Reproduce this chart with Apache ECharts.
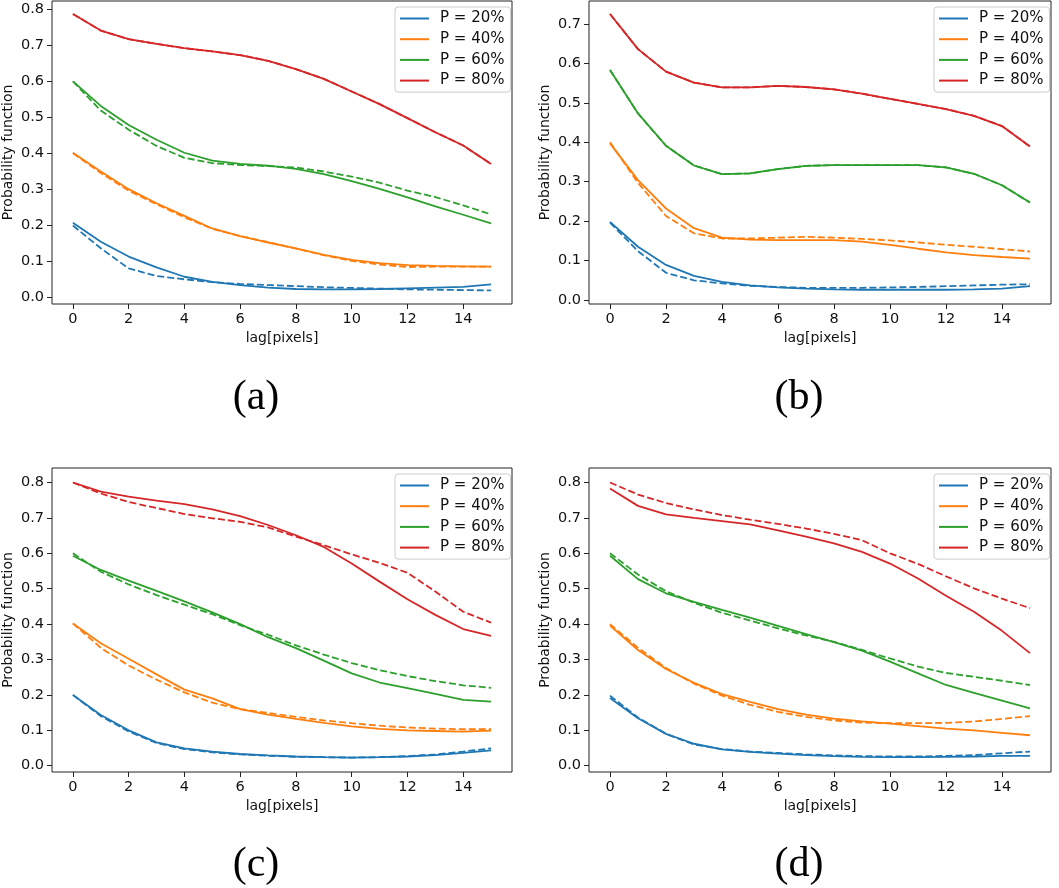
<!DOCTYPE html>
<html>
<head>
<meta charset="utf-8">
<script src="https://cdn.jsdelivr.net/npm/echarts@6/dist/echarts.min.js"></script>
<style>
  html, body { margin: 0; padding: 0; background: #fff; }
  #main { width: 1059px; height: 888px; }
</style>
</head>
<body>
<div id="main"></div>
<script>
// lag values (x) and tick labels
var lags = [0, 1, 2, 3, 4, 5, 6, 7, 8, 9, 10, 11, 12, 13, 14, 15];
var xTicks = [0, 2, 4, 6, 8, 10, 12, 14];
var yTicks8 = [0, 0.1, 0.2, 0.3, 0.4, 0.5, 0.6, 0.7, 0.8];
var yTicks7 = [0, 0.1, 0.2, 0.3, 0.4, 0.5, 0.6, 0.7];
var seriesNames = ['P = 20%', 'P = 40%', 'P = 60%', 'P = 80%'];
var panelLabels = ['(a)', '(b)', '(c)', '(d)'];

// (a)
var a20 = [0.207, 0.154, 0.113, 0.083, 0.057, 0.043, 0.034, 0.027, 0.023, 0.022, 0.022, 0.023, 0.025, 0.027, 0.029, 0.036];
var a20d = [0.199, 0.136, 0.080, 0.059, 0.050, 0.042, 0.037, 0.034, 0.031, 0.028, 0.026, 0.024, 0.022, 0.021, 0.020, 0.019];
var a40 = [0.401, 0.349, 0.300, 0.261, 0.226, 0.191, 0.170, 0.152, 0.136, 0.118, 0.104, 0.095, 0.089, 0.087, 0.086, 0.085];
var a40d = [0.400, 0.345, 0.296, 0.258, 0.222, 0.190, 0.170, 0.153, 0.135, 0.117, 0.101, 0.091, 0.084, 0.085, 0.085, 0.085];
var a60 = [0.599, 0.531, 0.478, 0.437, 0.401, 0.379, 0.370, 0.365, 0.356, 0.342, 0.322, 0.301, 0.277, 0.252, 0.229, 0.205];
var a60d = [0.599, 0.518, 0.465, 0.420, 0.387, 0.372, 0.367, 0.364, 0.360, 0.349, 0.335, 0.318, 0.296, 0.278, 0.255, 0.230];
var a80 = [0.786, 0.740, 0.716, 0.703, 0.691, 0.682, 0.672, 0.656, 0.633, 0.606, 0.571, 0.536, 0.497, 0.458, 0.421, 0.370];
var a80d = [0.786, 0.740, 0.716, 0.703, 0.691, 0.682, 0.672, 0.656, 0.633, 0.606, 0.571, 0.536, 0.497, 0.458, 0.421, 0.370];

// (b)
var b20 = [0.198, 0.135, 0.089, 0.061, 0.046, 0.037, 0.032, 0.029, 0.027, 0.026, 0.026, 0.026, 0.026, 0.027, 0.029, 0.035];
var b20d = [0.196, 0.124, 0.069, 0.050, 0.042, 0.036, 0.033, 0.031, 0.031, 0.031, 0.032, 0.033, 0.035, 0.037, 0.039, 0.040];
var b40 = [0.397, 0.304, 0.232, 0.182, 0.158, 0.153, 0.152, 0.152, 0.152, 0.148, 0.140, 0.130, 0.121, 0.114, 0.109, 0.105];
var b40d = [0.400, 0.297, 0.213, 0.169, 0.156, 0.156, 0.158, 0.160, 0.158, 0.155, 0.151, 0.146, 0.140, 0.135, 0.129, 0.123];
var b60 = [0.583, 0.473, 0.391, 0.341, 0.319, 0.321, 0.332, 0.340, 0.342, 0.342, 0.342, 0.342, 0.336, 0.320, 0.291, 0.247];
var b60d = [0.583, 0.473, 0.391, 0.341, 0.319, 0.321, 0.332, 0.340, 0.342, 0.342, 0.342, 0.342, 0.336, 0.320, 0.291, 0.247];
var b80 = [0.725, 0.636, 0.579, 0.551, 0.539, 0.539, 0.543, 0.540, 0.534, 0.523, 0.510, 0.497, 0.484, 0.467, 0.441, 0.389];
var b80d = [0.725, 0.636, 0.579, 0.551, 0.539, 0.539, 0.543, 0.540, 0.534, 0.523, 0.510, 0.497, 0.484, 0.467, 0.441, 0.389];

// (c)
var c20 = [0.200, 0.143, 0.100, 0.066, 0.049, 0.040, 0.033, 0.029, 0.026, 0.024, 0.023, 0.024, 0.026, 0.030, 0.036, 0.043];
var c20d = [0.200, 0.140, 0.097, 0.064, 0.047, 0.038, 0.032, 0.028, 0.025, 0.024, 0.023, 0.024, 0.027, 0.032, 0.040, 0.049];
var c40 = [0.402, 0.346, 0.302, 0.258, 0.215, 0.190, 0.160, 0.144, 0.132, 0.121, 0.111, 0.104, 0.100, 0.098, 0.096, 0.099];
var c40d = [0.402, 0.333, 0.283, 0.243, 0.207, 0.178, 0.160, 0.149, 0.138, 0.128, 0.120, 0.113, 0.108, 0.105, 0.103, 0.103];
var c60 = [0.593, 0.553, 0.523, 0.494, 0.464, 0.433, 0.400, 0.363, 0.332, 0.297, 0.261, 0.235, 0.219, 0.203, 0.186, 0.181];
var c60d = [0.600, 0.548, 0.512, 0.482, 0.455, 0.428, 0.397, 0.370, 0.340, 0.314, 0.290, 0.270, 0.253, 0.239, 0.227, 0.220];
var c80 = [0.800, 0.774, 0.760, 0.749, 0.739, 0.724, 0.705, 0.680, 0.651, 0.618, 0.571, 0.520, 0.470, 0.426, 0.386, 0.367];
var c80d = [0.800, 0.769, 0.745, 0.728, 0.711, 0.699, 0.689, 0.673, 0.647, 0.623, 0.597, 0.573, 0.545, 0.492, 0.435, 0.404];

// (d)
var d20 = [0.191, 0.134, 0.090, 0.062, 0.046, 0.039, 0.034, 0.030, 0.027, 0.025, 0.024, 0.024, 0.025, 0.026, 0.028, 0.028];
var d20d = [0.198, 0.136, 0.090, 0.060, 0.047, 0.040, 0.036, 0.032, 0.029, 0.027, 0.026, 0.026, 0.028, 0.030, 0.035, 0.040];
var d40 = [0.396, 0.327, 0.273, 0.234, 0.202, 0.180, 0.160, 0.144, 0.133, 0.125, 0.119, 0.112, 0.105, 0.100, 0.093, 0.086];
var d40d = [0.400, 0.333, 0.276, 0.232, 0.198, 0.172, 0.152, 0.138, 0.128, 0.122, 0.120, 0.120, 0.121, 0.125, 0.132, 0.140];
var d60 = [0.593, 0.527, 0.487, 0.463, 0.440, 0.418, 0.395, 0.372, 0.349, 0.325, 0.294, 0.261, 0.228, 0.206, 0.184, 0.162];
var d60d = [0.600, 0.540, 0.493, 0.460, 0.432, 0.410, 0.388, 0.368, 0.350, 0.327, 0.303, 0.280, 0.262, 0.251, 0.240, 0.228];
var d80 = [0.783, 0.734, 0.710, 0.700, 0.691, 0.682, 0.665, 0.647, 0.628, 0.604, 0.571, 0.529, 0.480, 0.435, 0.381, 0.318];
var d80d = [0.800, 0.766, 0.742, 0.724, 0.708, 0.695, 0.683, 0.670, 0.655, 0.637, 0.600, 0.570, 0.535, 0.501, 0.472, 0.445];

var colors = ['#1f77b4', '#ff7f0e', '#2ca02c', '#d62728'];

var panels = [
  { solid: [a20, a40, a60, a80], dashed: [a20d, a40d, a60d, a80d], yTicks: yTicks8 },
  { solid: [b20, b40, b60, b80], dashed: [b20d, b40d, b60d, b80d], yTicks: yTicks7 },
  { solid: [c20, c40, c60, c80], dashed: [c20d, c40d, c60d, c80d], yTicks: yTicks8 },
  { solid: [d20, d40, d60, d80], dashed: [d20d, d40d, d60d, d80d], yTicks: yTicks8 }
];

// layout (px)
var boxes = [
  { left: 50, top: 1, width: 462, height: 303, ymin: -0.0186, ymax: 0.822 },
  { left: 589, top: 1, width: 462, height: 303, ymin: -0.0101, ymax: 0.758 },
  { left: 50, top: 468, width: 462, height: 304, ymin: -0.0178, ymax: 0.841 },
  { left: 589, top: 468, width: 462, height: 304, ymin: -0.0178, ymax: 0.841 }
];
var captionPos = [[256, 398], [799, 398], [256, 865], [799, 865]];

var font = 'DejaVu Sans';
var grids = [], xAxes = [], yAxes = [], legends = [], series = [], graphics = [];

boxes.forEach(function (b, i) {
  grids.push({
    left: b.left, top: b.top, width: b.width, height: b.height,
    show: true, borderColor: '#222', borderWidth: 1, backgroundColor: 'transparent'
  });
  xAxes.push({
    type: 'value', gridIndex: i, min: -0.75, max: 15.75,
    name: 'lag[pixels]', nameLocation: 'middle', nameGap: 27,
    nameTextStyle: { fontFamily: font, fontSize: 14, color: '#111' },
    axisLine: { show: false, onZero: false },
    axisTick: { show: true, inside: false, length: 5, customValues: xTicks, lineStyle: { color: '#222' } },
    axisLabel: { customValues: xTicks, margin: 8, fontFamily: font, fontSize: 14.5, color: '#111' },
    splitLine: { show: false }
  });
  yAxes.push({
    type: 'value', gridIndex: i, min: b.ymin, max: b.ymax,
    name: 'Probability function', nameLocation: 'middle', nameGap: 37,
    nameTextStyle: { fontFamily: font, fontSize: 14, color: '#111' },
    axisLine: { show: false, onZero: false },
    axisTick: { show: true, inside: false, length: 5, customValues: panels[i].yTicks, lineStyle: { color: '#222' } },
    axisLabel: {
      customValues: panels[i].yTicks, margin: 8, fontFamily: font, fontSize: 14.5, color: '#111',
      formatter: function (v) { return v.toFixed(1); }
    },
    splitLine: { show: false }
  });
  legends.push({
    data: seriesNames,
    orient: 'vertical',
    left: b.left + b.width - 117, top: b.top + 6,
    icon: 'rect', itemWidth: 29, itemHeight: 2, itemGap: 5.7,
    padding: [4, 6, 4, 5],
    borderColor: '#ccc', borderWidth: 1, borderRadius: 3,
    backgroundColor: 'rgba(255,255,255,0.8)',
    textStyle: { fontFamily: font, fontSize: 15, color: '#111', lineHeight: 15, padding: [0, 0, 0, 6] }
  });
  for (var k = 0; k < 4; k++) {
    series.push({
      type: 'line', name: seriesNames[k], xAxisIndex: i, yAxisIndex: i,
      data: lags.map(function (x, j) { return [x, panels[i].solid[k][j]]; }),
      symbol: 'none', color: colors[k],
      lineStyle: { width: 1.8, color: colors[k] }
    });
    series.push({
      type: 'line', name: seriesNames[k] + ' dashed', xAxisIndex: i, yAxisIndex: i,
      data: lags.map(function (x, j) { return [x, panels[i].dashed[k][j]]; }),
      symbol: 'none', color: colors[k],
      lineStyle: { width: 1.8, color: colors[k], type: [7, 3] }
    });
  }
  graphics.push({
    type: 'text', x: captionPos[i][0], y: captionPos[i][1],
    style: {
      text: panelLabels[i], fontFamily: 'Liberation Serif', fontSize: 42,
      fill: '#000', align: 'center', verticalAlign: 'middle'
    }
  });
});

var chart = echarts.init(document.getElementById('main'), null, { renderer: 'canvas' });
var option = {
  backgroundColor: '#fff',
  animation: false,
  grid: grids,
  xAxis: xAxes,
  yAxis: yAxes,
  legend: legends,
  series: series,
  graphic: graphics
};
chart.setOption(option);
</script>
</body>
</html>
